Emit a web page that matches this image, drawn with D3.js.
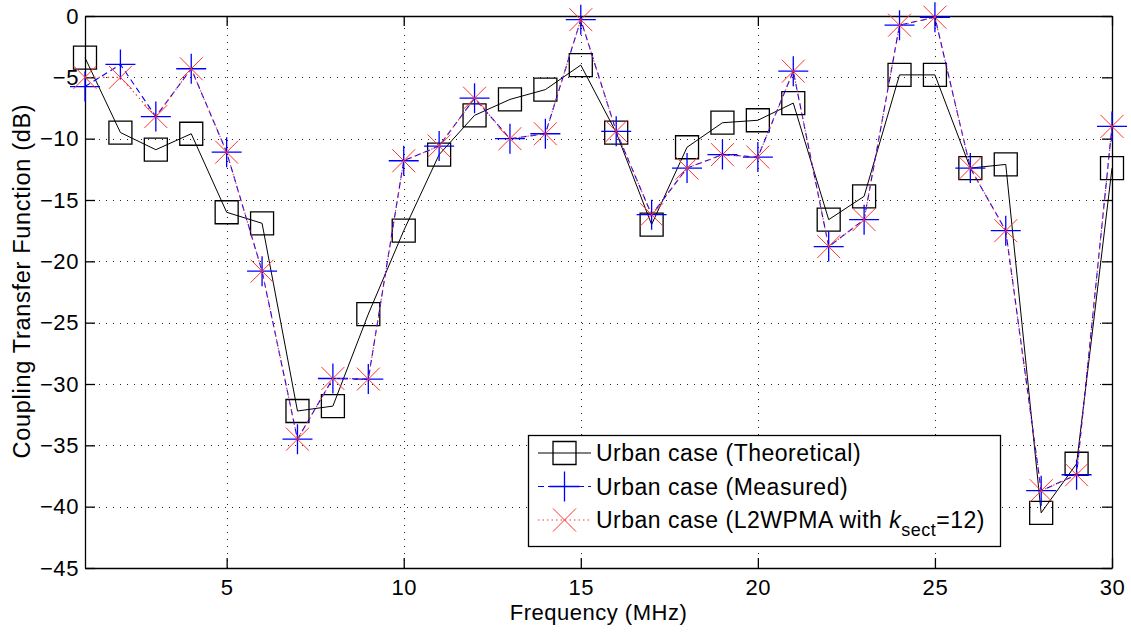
<!DOCTYPE html>
<html><head><meta charset="utf-8">
<script src="https://cdn.jsdelivr.net/npm/d3@7"></script>
<style>body{margin:0;background:#fff}svg{display:block}</style>
</head><body><svg id="c" width="1131" height="634"></svg>
<script>
const freq = [1,2,3,4,5,6,7,8,9,10,11,12,13,14,15,16,17,18,19,20,21,22,23,24,25,26,27,28,29,30];
const theoretical = [-3.4,-9.5,-10.9,-9.6,-16.0,-16.9,-32.2,-31.8,-24.3,-17.5,-11.3,-8.1,-6.8,-6.0,-4.0,-9.5,-17.0,-10.7,-8.7,-8.5,-7.1,-16.6,-14.7,-4.8,-4.8,-12.4,-12.1,-40.5,-36.5,-12.4];
const measured = [-5.75,-3.95,-8.2,-4.3,-11.1,-20.8,-34.5,-29.55,-29.6,-11.8,-10.6,-6.7,-10.0,-9.6,-0.3,-9.4,-16.2,-12.4,-11.3,-11.5,-4.5,-18.8,-16.6,-0.75,-0.1,-12.4,-17.5,-38.7,-37.4,-9.0];
const l2wpma = [-5.0,-5.0,-8.2,-4.3,-11.1,-20.8,-34.5,-29.55,-29.6,-11.8,-10.6,-6.7,-10.0,-9.6,-0.3,-9.4,-16.2,-12.4,-11.3,-11.5,-4.5,-18.8,-16.6,-0.75,-0.1,-12.4,-17.5,-38.7,-37.4,-9.0];
const xTicks = [5,10,15,20,25,30];
const yTicks = [0,-5,-10,-15,-20,-25,-30,-35,-40,-45];
const seriesNames = ["Urban case (Theoretical)","Urban case (Measured)","Urban case (L2WPMA with "];
const xLabel = "Frequency (MHz)";
const yLabel = "Coupling Transfer Function (dB)";

const W = 1131, H = 634;
const m = {left:85, right:19, top:16, bottom:66};
const FONT = "'Liberation Sans', Arial, Helvetica, sans-serif";
const svg = d3.select("#c");
const x = d3.scaleLinear().domain([1,30]).range([m.left, W - m.right]);
const y = d3.scaleLinear().domain([-45,0]).range([H - m.bottom, m.top]);
const x0 = x.range()[0], x1 = x.range()[1], y0 = y.range()[0], y1 = y.range()[1];

svg.append("rect").attr("x",x0).attr("y",y1).attr("width",x1-x0).attr("height",y0-y1).attr("fill","#fff");

// grid
const grid = svg.append("g").attr("stroke","#222").attr("stroke-width",1).attr("stroke-dasharray","1,6");
grid.selectAll("line.v").data(xTicks).join("line").attr("class","v")
  .attr("x1",d=>Math.round(x(d))+0.5).attr("x2",d=>Math.round(x(d))+0.5).attr("y1",y0).attr("y2",y1);
grid.selectAll("line.h").data(yTicks).join("line").attr("class","h")
  .attr("y1",d=>Math.round(y(d))+0.5).attr("y2",d=>Math.round(y(d))+0.5).attr("x1",x0).attr("x2",x1);

// axes
function styleAxis(g){
  g.selectAll("path.domain").attr("stroke","#000").attr("stroke-width",1.3);
  g.selectAll(".tick line").attr("stroke","#000").attr("stroke-width",1.3);
  g.selectAll("text").attr("font-family",FONT).attr("font-size",22).attr("letter-spacing",0.6).attr("fill","#000");
}
svg.append("g").attr("transform",`translate(0,${y0})`)
  .call(d3.axisBottom(x).tickValues(xTicks).tickSize(-10).tickSizeOuter(0).tickPadding(11)).call(styleAxis);
svg.append("g").attr("transform",`translate(0,${y1})`)
  .call(d3.axisTop(x).tickValues(xTicks).tickSize(-10).tickSizeOuter(0).tickFormat("")).call(styleAxis);
svg.append("g").attr("transform",`translate(${x0},0)`)
  .call(d3.axisLeft(y).tickValues(yTicks).tickSize(-10).tickSizeOuter(0).tickPadding(6)).call(styleAxis);
svg.append("g").attr("transform",`translate(${x1},0)`)
  .call(d3.axisRight(y).tickValues(yTicks).tickSize(-10).tickSizeOuter(0).tickFormat("")).call(styleAxis);

const lineGen = vals => d3.line().x((d,i)=>x(freq[i])).y(d=>y(d))(vals);

function squarePath(s){const h=s/2;return `M${-h},${-h}H${h}V${h}H${-h}Z`;}
function plusPath(s){const h=s/2;return `M${-h},0H${h}M0,${-h}V${h}`;}
function xPath(s){const h=s/2;return `M${-h},${-h}L${h},${h}M${-h},${h}L${h},${-h}`;}

const series = [
  {vals:theoretical, color:"#000", dash:null, marker:squarePath(23), mw:1.3, lw:1},
  {vals:measured, color:"#0000ff", dash:"6,4", marker:plusPath(30), mw:1.3, lw:1.1},
  {vals:l2wpma, color:"#ff3333", dash:"1.5,3", marker:xPath(23), mw:1, lw:1.1}
];
series.forEach(s=>{
  const g = svg.append("g");
  g.append("path").attr("d",lineGen(s.vals)).attr("fill","none").attr("stroke",s.color)
    .attr("stroke-width",s.lw).attr("stroke-dasharray",s.dash);
  g.selectAll("path.mk").data(s.vals).join("path").attr("class","mk")
    .attr("transform",(d,i)=>`translate(${x(freq[i])},${y(d)})`)
    .attr("d",s.marker).attr("fill","none").attr("stroke",s.color).attr("stroke-width",s.mw);
});

// axis labels
svg.append("text").attr("x",(x0+x1)/2).attr("y",620).attr("text-anchor","middle")
  .attr("font-family",FONT).attr("font-size",22).attr("letter-spacing",0.5).text(xLabel);
svg.append("text").attr("transform",`translate(30,281) rotate(-90)`).attr("text-anchor","middle")
  .attr("font-family",FONT).attr("font-size",23.5).attr("letter-spacing",0.7).text(yLabel);

// legend
const lg = svg.append("g");
lg.append("rect").attr("x",528.5).attr("y",435.5).attr("width",472).attr("height",111)
  .attr("fill","#fff").attr("stroke","#000").attr("stroke-width",1.3);
const rowsY = [453,486.5,520];
series.forEach((s,i)=>{
  const cy = rowsY[i];
  lg.append("line").attr("x1",538).attr("x2",591).attr("y1",cy).attr("y2",cy)
    .attr("stroke",s.color).attr("stroke-width",s.lw).attr("stroke-dasharray",s.dash);
  lg.append("path").attr("transform",`translate(564.5,${cy})`).attr("d",s.marker)
    .attr("fill","none").attr("stroke",s.color).attr("stroke-width",s.mw);
  const t = lg.append("text").attr("x",596).attr("y",cy+8).attr("font-family",FONT).attr("font-size",23)
    .attr("letter-spacing",0.5).attr("fill","#000");
  t.append("tspan").text(seriesNames[i]);
  if(i===2){
    t.append("tspan").attr("font-style","italic").text("k");
    t.append("tspan").attr("font-size",18).attr("dy",8).text("sect");
    t.append("tspan").attr("dy",-8).text("=12)");
  }
});
</script>
</body></html>
